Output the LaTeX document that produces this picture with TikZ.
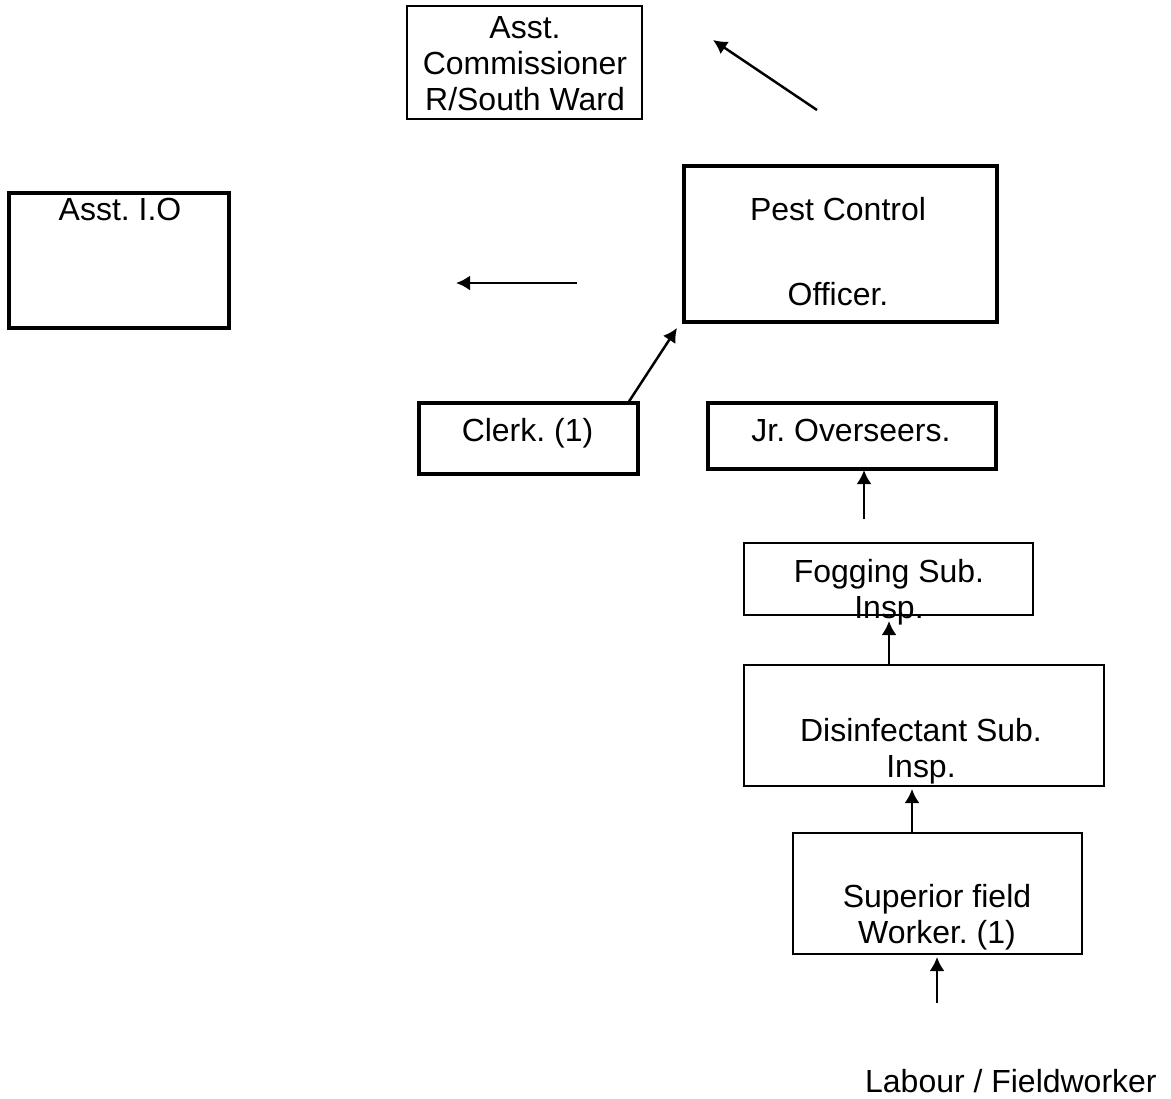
\documentclass[tikz,border=0pt]{standalone}
\usepackage{fontspec}
\setmainfont{Liberation Sans}
\frenchspacing
\usetikzlibrary{arrows.meta}
\usetikzlibrary{positioning}
\tikzstyle{thickbox}=[draw, line width=2pt, inner sep=0pt, outer sep=0pt]
\tikzstyle{thinbox}=[draw, line width=0.75pt, inner sep=0pt, outer sep=0pt]
\tikzstyle{midbox}=[draw, line width=1.1pt, inner sep=0pt, outer sep=0pt]
\tikzstyle{boxtext}=[inner sep=0pt, align=center, anchor=base, font=\fontsize{18.2}{20.4}\selectfont]
\tikzstyle{orgarrow}=[line width=1.4pt, -{Latex[length=0.28cm,width=0.3cm]}]

\begin{document}
\begin{tikzpicture}[x=0.02cm, y=-0.02cm]
\useasboundingbox (0,0) rectangle (1171,1099);
% boxes
\node[thinbox, minimum width=4.7cm, minimum height=2.26cm] (comm) at (524.5,62.5) {};
\node[thickbox, minimum width=4.4cm, minimum height=2.7cm] (io) at (119,260.5) {};
\node[thickbox, minimum width=6.26cm, minimum height=3.12cm] (pest) at (840.5,244) {};
\node[thickbox, minimum width=4.38cm, minimum height=1.42cm] (clerk) at (528.5,438.5) {};
\node[thickbox, minimum width=5.76cm, minimum height=1.32cm] (jr) at (852,436) {};
\node[thinbox, minimum width=5.78cm, minimum height=1.44cm] (fog) at (888.5,579) {};
\node[midbox, minimum width=7.2cm, minimum height=2.42cm] (dis) at (924,725.5) {};
\node[midbox, minimum width=5.78cm, minimum height=2.42cm] (sup) at (937.5,893.5) {};
% texts (base = last line)
\node[boxtext] (comm-t) at (525,110) {Asst.\\Commissioner\\R/South Ward};
\node[boxtext] (io-t) at (120,220) {Asst. I.O};
\node[boxtext] (pest-t1) at (838,220) {Pest Control};
\node[boxtext] (pest-t2) at (838,305) {Officer.};
\node[boxtext] (clerk-t) at (527.5,441) {Clerk. (1)};
\node[boxtext] (jr-t) at (851,441) {Jr. Overseers.};
\node[boxtext] (fog-t) at (889,618) {Fogging Sub.\\Insp.};
\node[boxtext] (dis-t) at (921,777) {Disinfectant Sub.\\Insp.};
\node[boxtext] (sup-t) at (937,943) {Superior field\\Worker. (1)};
\node[boxtext, anchor=base east] (labour) at (1157,1092) {Labour / Fieldworker};
% arrow ends
\coordinate (comm-tail) at (817,110);
\coordinate (comm-tip) at (713,40);
\coordinate (io-tail) at (577,283);
\coordinate (io-tip) at (456,283);
\coordinate (clerk-tail) at (628,403);
\coordinate (clerk-tip) at (677,328);
\coordinate (jr-tail) at (864,519);
\coordinate (jr-tip) at (864,470);
\coordinate (fog-tail) at (889,665);
\coordinate (fog-tip) at (889,621);
\coordinate (dis-tail) at (912,833);
\coordinate (dis-tip) at (912,789);
\coordinate (sup-tail) at (937,1003);
\coordinate (sup-tip) at (937,957);
% arrows
\draw[orgarrow] (comm-tail) -- (comm-tip);
\draw[orgarrow] (io-tail) -- (io-tip);
\draw[orgarrow] (clerk-tail) -- (clerk-tip);
\draw[orgarrow] (jr-tail) -- (jr-tip);
\draw[orgarrow] (fog-tail) -- (fog-tip);
\draw[orgarrow] (dis-tail) -- (dis-tip);
\draw[orgarrow] (sup-tail) -- (sup-tip);
\end{tikzpicture}
\end{document}
